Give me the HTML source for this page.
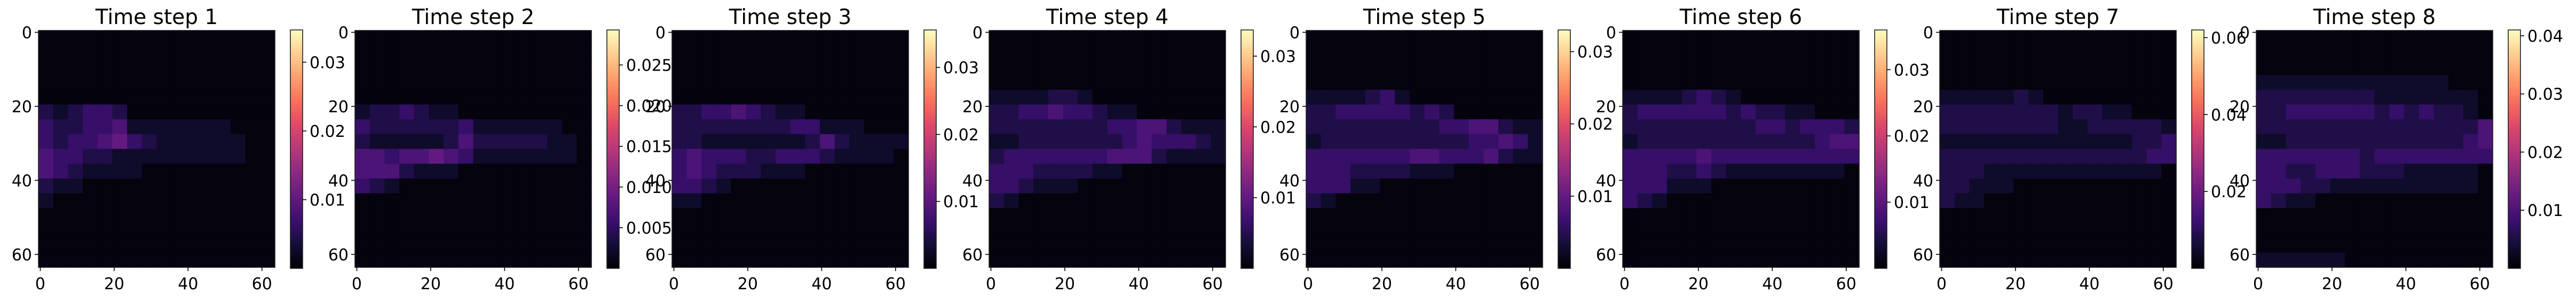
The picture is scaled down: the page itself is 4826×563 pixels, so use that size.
<!DOCTYPE html>
<html><head><meta charset="utf-8"><style>
html,body{margin:0;padding:0;background:#fff;}
svg{display:block;font-family:"DejaVu Sans","Liberation Sans",sans-serif;}
</style></head><body>
<svg id="fig" width="4826" height="563" viewBox="0 0 4826 563" xmlns="http://www.w3.org/2000/svg">
<defs>
<linearGradient id="magma" x1="0" y1="1" x2="0" y2="0">
<stop offset="0" stop-color="#000004"/><stop offset="0.1" stop-color="#140e36"/><stop offset="0.2" stop-color="#3b0f70"/><stop offset="0.3" stop-color="#641a80"/><stop offset="0.4" stop-color="#8c2981"/><stop offset="0.5" stop-color="#b73779"/><stop offset="0.6" stop-color="#de4968"/><stop offset="0.7" stop-color="#f7705c"/><stop offset="0.8" stop-color="#fe9f6d"/><stop offset="0.9" stop-color="#fecf92"/><stop offset="1" stop-color="#fcfdbf"/>
</linearGradient>
</defs>
</svg>
<script>
// ---- data ----
const titles = ["Time step 1","Time step 2","Time step 3","Time step 4","Time step 5","Time step 6","Time step 7","Time step 8"];
const vmax = [0.0347,0.0293,0.0356,0.0337,0.033,0.036,0.062,0.041];
const cbarTicks = [
 [0.01,0.02,0.03],
 [0.005,0.010,0.015,0.020,0.025],
 [0.01,0.02,0.03],
 [0.01,0.02,0.03],
 [0.01,0.02,0.03],
 [0.01,0.02,0.03],
 [0.02,0.04,0.06],
 [0.01,0.02,0.03,0.04]
];
const cbarTickLabels = [
 ["0.01","0.02","0.03"],
 ["0.005","0.010","0.015","0.020","0.025"],
 ["0.01","0.02","0.03"],
 ["0.01","0.02","0.03"],
 ["0.01","0.02","0.03"],
 ["0.01","0.02","0.03"],
 ["0.02","0.04","0.06"],
 ["0.01","0.02","0.03","0.04"]
];
const axisTicks = [0,20,40,60];
const Z = "0000000000000000";
// block-level intensity levels (0-9) on a 16x16 grid per panel
const grid1 = [Z,Z,Z,Z,Z,"2123320000000000","3223341111111000","3233453211111100","4332211111111100","4321111000000000","2110000000000000","1000000000000000",Z,Z,Z,Z];
const grid2 = [Z,Z,Z,Z,Z,"1223211000000000","3222222311111100","2111112422222110","4434454311111110","4442111000000000","3210000000000000",Z,Z,Z,Z,Z];
const grid3 = [Z,Z,Z,Z,Z,"2233432110000000","2222222233111000","2211111112421111","3433322333211110","3432221110000000","3321000000000000","1100000000000000",Z,Z,Z,Z];
const grid4 = [Z,Z,Z,Z,"1111221000000000","2233433211000000","2222222233442111","1122222223433321","2333333344421111","3332222110000000","3321110000000000","2100000000000000",Z,Z,Z,Z];
const grid5 = [Z,Z,Z,Z,"1111231000000000","2233333232000000","2222222223344211","1222222222233431","3333333443334211","3332222111000000","3331100000000000","2100000000000000",Z,Z,Z,Z];
const grid6 = [Z,Z,Z,Z,"1111232100000000","2333333232211000","2222222223323332","1222222222222344","3333343333333333","3332232111111110","3331110000000000","3210000000000000",Z,Z,Z,Z];
const grid7 = [Z,Z,Z,Z,"1111121000000000","2222222212211000","2222222211222221","1111111111111223","2222222222222233","2221111111111110","2211100000000000","2110000000000000",Z,Z,Z,Z];
const grid8 = [Z,Z,Z,"1111111111111000","2222222211111110","2233333323232210","2222222222222224","1122222222222234","3333333233333333","3322333222111110","3332211111111110","3211000000000000",Z,Z,Z,"1111110000000000"];
const grids = [grid1,grid2,grid3,grid4,grid5,grid6,grid7,grid8];

// ---- layout ----
const NS = "http://www.w3.org/2000/svg";
const svg = document.getElementById('fig');
const hmRight = [515,1108,1702,2296,2890,3483,4077,4670];
const HM = 443, TOP = 57, CB_TOP = 56, CB_BOT = 502, CB_W = 23;
const stops = [[0,[0,0,4]],[0.1,[20,14,54]],[0.2,[59,15,112]],[0.3,[100,26,128]],[0.4,[140,41,129]],[0.5,[183,55,121]],[0.6,[222,73,104]],[0.7,[247,112,92]],[0.8,[254,159,109]],[0.9,[254,207,146]],[1,[252,253,191]]];
function magma(t){t=Math.max(0,Math.min(1,t));for(let i=1;i<stops.length;i++){if(t<=stops[i][0]){const a=stops[i-1],b=stops[i];const f=(t-a[0])/(b[0]-a[0]);const c=a[1].map((v,k)=>Math.round(v+(b[1][k]-v)*f));return `rgb(${c[0]},${c[1]},${c[2]})`;}}return 'rgb(252,253,191)';}
function mk(tag,attrs,parent){const e=document.createElementNS(NS,tag);for(const k in attrs)e.setAttribute(k,attrs[k]);(parent||svg).appendChild(e);return e;}

for(let p=0;p<8;p++){
  const left = hmRight[p]-HM;
  const g = mk('g',{});
  
  
  const vm = vmax[p];
  const grid = grids[p];
  const n = grid.length, cs = HM/n;
  const xs = v => left + (v+0.5)*HM/64;
  const ys = v => TOP + (v+0.5)*HM/64;
  for(let r=0;r<n;r++){
    for(let c=0;c<n;c++){
      const val = (+grid[r][c])/9*vm;
      const t = 0.02 + (val/vm)*0.5;
      const cell = mk('rect',{x:(left+c*cs).toFixed(2),y:(TOP+r*cs).toFixed(2),width:(cs+0.6).toFixed(2),height:(cs+0.6).toFixed(2),fill:magma(t)},g);
      
      
    }
  }
  const frame = mk('rect',{x:left,y:TOP,width:HM,height:HM,fill:'none',stroke:'#222',"stroke-width":1.6},g);
  
  
  const title = mk('text',{x:left+HM/2,y:45,"font-size":39,"text-anchor":"middle",fill:'#000'},g);
  title.textContent = titles[p];
  
  
  axisTicks.forEach(v=>{
    const y=ys(v);
    mk('line',{x1:left-7,x2:left,y1:y,y2:y,stroke:'#000',"stroke-width":1.6},g);
    const yl = mk('text',{x:left-12,y:y+11,"font-size":30,"text-anchor":"end"},g);
    yl.textContent = v;
    
    
    const x=xs(v);
    mk('line',{x1:x,x2:x,y1:TOP+HM,y2:TOP+HM+7,stroke:'#000',"stroke-width":1.6},g);
    const xl = mk('text',{x:x,y:541,"font-size":30,"text-anchor":"middle"},g);
    xl.textContent = v;
    
    
  });
  const cbx = hmRight[p]+29;
  const cb = mk('rect',{x:cbx,y:CB_TOP,width:CB_W,height:CB_BOT-CB_TOP,fill:'url(#magma)',stroke:'#222',"stroke-width":1.6},g);
  
  
  const cy = v => CB_BOT - v/vm*(CB_BOT-CB_TOP);
  cbarTicks[p].forEach((v,i)=>{
    const y=cy(v);
    mk('line',{x1:cbx+CB_W,x2:cbx+CB_W+7,y1:y,y2:y,stroke:'#000',"stroke-width":1.6},g);
    const cl = mk('text',{x:cbx+CB_W+13,y:y+11,"font-size":30},g);
    cl.textContent = cbarTickLabels[p][i];
    
    
  });
}
</script>
</body></html>
